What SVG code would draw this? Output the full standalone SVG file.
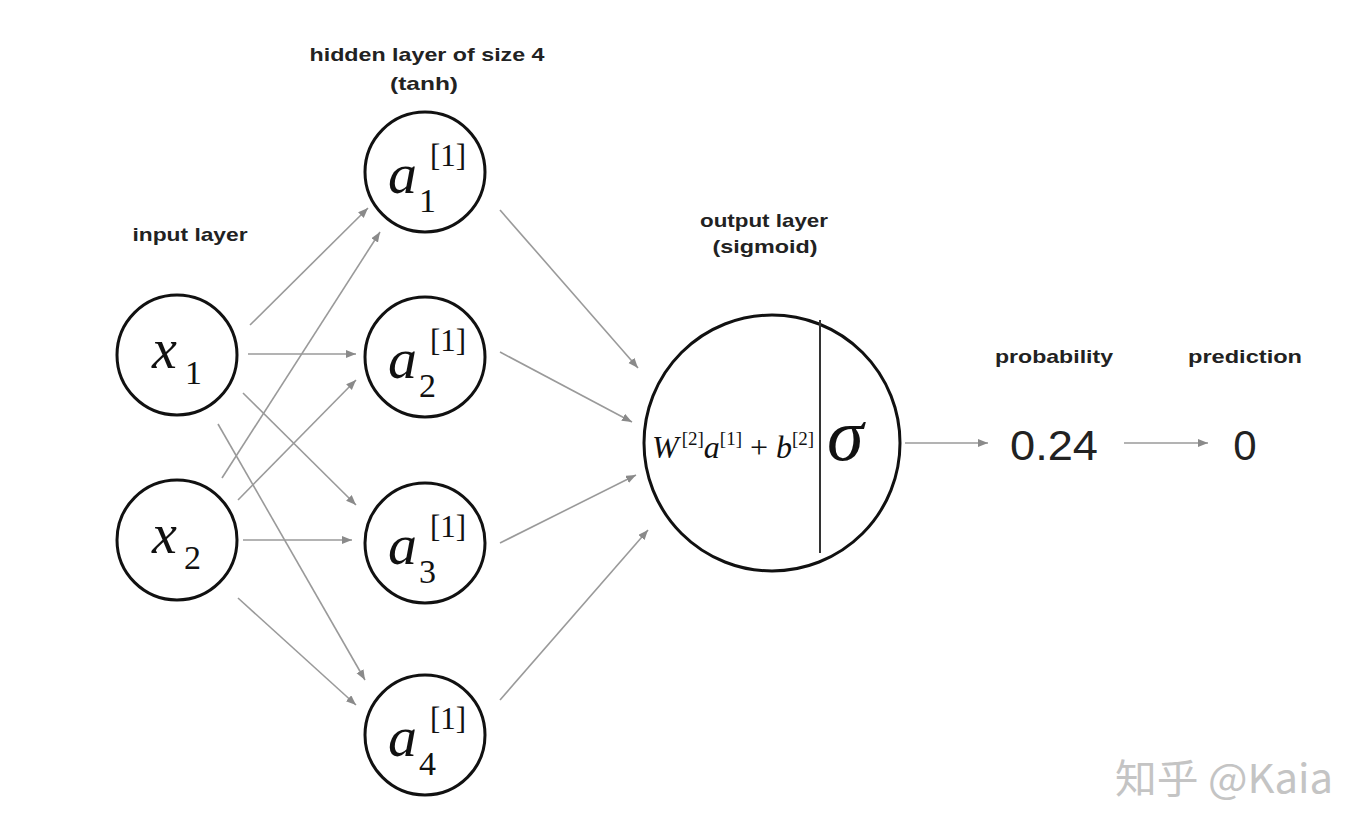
<svg xmlns="http://www.w3.org/2000/svg" width="1368" height="834" viewBox="0 0 1368 834">
<defs>
<marker id="ah" markerUnits="userSpaceOnUse" markerWidth="12" markerHeight="10" refX="10" refY="4" orient="auto">
<path d="M0,0 L10,4 L0,8 Z" fill="#8a8a8a"/>
</marker>
<style>
.node{fill:#fff;stroke:#111;stroke-width:3}
.conn line{stroke:#9a9a9a;stroke-width:1.6;marker-end:url(#ah)}
.lbl{font-family:"Liberation Sans",Arial,sans-serif;font-weight:bold;font-size:19px;fill:#222;text-anchor:middle}
.m{font-family:"Liberation Serif","Times New Roman",serif;fill:#111}
.num{font-family:"Liberation Sans",Arial,sans-serif;font-size:42px;fill:#222;text-anchor:middle}
</style>
</defs>
<rect width="1368" height="834" fill="#fff"/>

<g id="labels">
<text class="lbl" x="190" y="241" textLength="115" lengthAdjust="spacingAndGlyphs">input layer</text>
<text class="lbl" x="427" y="61" textLength="235" lengthAdjust="spacingAndGlyphs">hidden layer of size 4</text>
<text class="lbl" x="424" y="90" textLength="68" lengthAdjust="spacingAndGlyphs">(tanh)</text>
<text class="lbl" x="764" y="227" textLength="128" lengthAdjust="spacingAndGlyphs">output layer</text>
<text class="lbl" x="765" y="253" textLength="105" lengthAdjust="spacingAndGlyphs">(sigmoid)</text>
<text class="lbl" x="1054" y="363" textLength="118" lengthAdjust="spacingAndGlyphs">probability</text>
<text class="lbl" x="1245" y="363" textLength="114" lengthAdjust="spacingAndGlyphs">prediction</text>
</g>

<g class="conn" id="connectors">
<line x1="250" y1="325" x2="368" y2="208"/>
<line x1="222" y1="478" x2="380" y2="232"/>
<line x1="248" y1="354" x2="356" y2="354"/>
<line x1="238" y1="500" x2="356" y2="380"/>
<line x1="243" y1="393" x2="356" y2="505"/>
<line x1="243" y1="540" x2="352" y2="540"/>
<line x1="218" y1="424" x2="365" y2="680"/>
<line x1="238" y1="598" x2="356" y2="705"/>
<line x1="500" y1="210" x2="638" y2="368"/>
<line x1="500" y1="352" x2="632" y2="422"/>
<line x1="500" y1="543" x2="636" y2="475"/>
<line x1="500" y1="700" x2="648" y2="530"/>
<line x1="905" y1="443" x2="988" y2="443"/>
<line x1="1124" y1="443" x2="1208" y2="443"/>
</g>

<g id="x1">
<circle class="node" cx="177" cy="355" r="60"/>
<text class="m" x="152" y="368" font-size="56" font-style="italic">x</text>
<text class="m" x="185" y="384" font-size="34">1</text>
</g>
<g id="x2">
<circle class="node" cx="177" cy="540" r="60"/>
<text class="m" x="152" y="553" font-size="56" font-style="italic">x</text>
<text class="m" x="184" y="569" font-size="34">2</text>
</g>

<g id="a1">
<circle class="node" cx="425" cy="172" r="60"/>
<text class="m" x="388" y="193" font-size="58" font-style="italic">a</text>
<text class="m" x="430" y="166" font-size="31">[1]</text>
<text class="m" x="419" y="212" font-size="34">1</text>
</g>
<g id="a2">
<circle class="node" cx="425" cy="357" r="60"/>
<text class="m" x="388" y="378" font-size="58" font-style="italic">a</text>
<text class="m" x="430" y="351" font-size="31">[1]</text>
<text class="m" x="419" y="397" font-size="34">2</text>
</g>
<g id="a3">
<circle class="node" cx="425" cy="543" r="60"/>
<text class="m" x="388" y="564" font-size="58" font-style="italic">a</text>
<text class="m" x="430" y="537" font-size="31">[1]</text>
<text class="m" x="419" y="583" font-size="34">3</text>
</g>
<g id="a4">
<circle class="node" cx="425" cy="735" r="60"/>
<text class="m" x="388" y="756" font-size="58" font-style="italic">a</text>
<text class="m" x="430" y="729" font-size="31">[1]</text>
<text class="m" x="419" y="775" font-size="34">4</text>
</g>

<g id="output">
<circle class="node" cx="772" cy="443" r="128"/>
<line x1="820" y1="320" x2="820" y2="553" stroke="#333" stroke-width="2"/>
<text class="m" x="652" y="458" font-size="32"><tspan font-style="italic">W</tspan><tspan font-size="19" dy="-13" dx="3">[2]</tspan><tspan font-style="italic" dy="13">a</tspan><tspan font-size="19" dy="-13">[1]</tspan><tspan dy="13"> + </tspan><tspan font-style="italic">b</tspan><tspan font-size="19" dy="-13">[2]</tspan></text>
<text class="m" x="827" y="460" font-size="74" font-style="italic">σ</text>
</g>

<g id="probability">
<text class="num" x="1054" y="460" textLength="88" lengthAdjust="spacingAndGlyphs">0.24</text>
</g>
<g id="prediction">
<text class="num" x="1245" y="460">0</text>
</g>

<g id="watermark">
<text x="1224" y="793" font-family="'Noto Sans CJK SC','Liberation Sans',sans-serif" font-size="40" fill="#c4c4c4" text-anchor="middle" textLength="218" lengthAdjust="spacingAndGlyphs">知乎 @Kaia</text>
</g>
</svg>
